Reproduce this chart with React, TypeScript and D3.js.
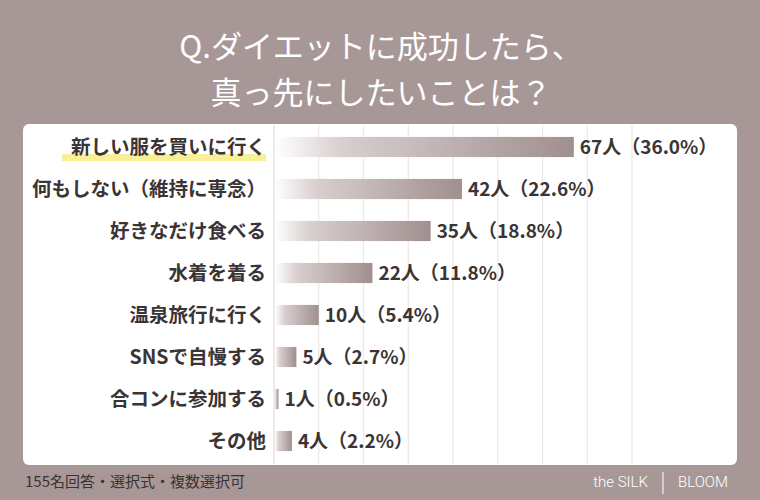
import React from "react";
import * as d3 from "d3";

const titleLines = ["Q.ダイエットに成功したら、", "真っ先にしたいことは？"];
const categories = [
  "新しい服を買いに行く",
  "何もしない（維持に専念）",
  "好きなだけ食べる",
  "水着を着る",
  "温泉旅行に行く",
  "SNSで自慢する",
  "合コンに参加する",
  "その他",
];
const counts = [67, 42, 35, 22, 10, 5, 1, 4];
const percents = ["36.0", "22.6", "18.8", "11.8", "5.4", "2.7", "0.5", "2.2"];
const gridTicks = [0, 10, 20, 30, 40, 50, 60, 70, 80];
const footnote = "155名回答・選択式・複数選択可";

const W = 760;
const H = 500;
const BG = "#a89797";
const FONT = "'Noto Sans CJK JP', 'Noto Sans', sans-serif";

export default function App() {
  const x = d3.scaleLinear().domain([0, 80]).range([274, 632]);
  const y = d3
    .scaleBand<string>()
    .domain(categories)
    .range([126, 462])
    .paddingInner(0.52)
    .paddingOuter(0.26);
  const bw = y.bandwidth();

  return (
    <div style={{ position: "fixed", left: 0, top: 0 }}>
      <svg width={W} height={H} style={{ display: "block" }}>
        <defs>
          <linearGradient id="barGrad" x1="0" x2="1" y1="0" y2="0">
            <stop offset="0" stopColor="#ffffff" />
            <stop offset="0.22" stopColor="#d9cfcf" />
            <stop offset="1" stopColor="#a08f8f" />
          </linearGradient>
        </defs>
        <rect x={0} y={0} width={W} height={H} fill={BG} />
        {titleLines.map((t, i) => (
          <text
            key={i}
            x={381}
            y={58 + i * 46}
            textAnchor="middle"
            fill="#ffffff"
            fontFamily={FONT}
            fontSize={31}
            fontWeight={400}
          >
            {t}
          </text>
        ))}
        <rect x={23} y={124} width={714} height={341} rx={6} fill="#ffffff" />
        {gridTicks.map((t) => (
          <line
            key={t}
            x1={x(t)}
            x2={x(t)}
            y1={125}
            y2={464}
            stroke={t === 0 ? "#e2dcdc" : "#ebe7e7"}
            strokeWidth={1.2}
          />
        ))}
        <rect x={62} y={154} width={204} height={7} fill="#f8ef96" />
        {categories.map((c, i) => {
          const yy = y(c)!;
          const cy = yy + bw / 2;
          return (
            <g key={c}>
              <rect
                x={x(0) + 1}
                y={yy}
                width={Math.max(0, x(counts[i]) - x(0) - 1)}
                height={bw}
                fill="url(#barGrad)"
              />
              <text
                x={266}
                y={cy + 7}
                textAnchor="end"
                fill="#3b3434"
                fontFamily={FONT}
                fontSize={19.5}
                fontWeight={700}
              >
                {c}
              </text>
              <text
                x={x(counts[i]) + 6}
                y={cy + 7}
                fill="#3b3434"
                fontFamily={FONT}
                fontSize={19}
                fontWeight={700}
              >
                {`${counts[i]}人（${percents[i]}%）`}
              </text>
            </g>
          );
        })}
        <text
          x={25}
          y={487}
          fill="#3a3232"
          fontFamily={FONT}
          fontSize={15}
        >
          {footnote}
        </text>
        <text
          x={648}
          y={487}
          textAnchor="end"
          fill="#ffffff"
          fontFamily="Roboto, 'Open Sans', sans-serif"
          fontSize={15}
          fontWeight={300}
        >
          the SILK
        </text>
        <line x1={663} x2={663} y1={472} y2={494} stroke="#ffffff" strokeWidth={1} />
        <text
          x={678}
          y={487}
          fill="#ffffff"
          fontFamily="Roboto, 'Open Sans', sans-serif"
          fontSize={15}
          fontWeight={300}
        >
          BLOOM
        </text>
      </svg>
    </div>
  );
}
